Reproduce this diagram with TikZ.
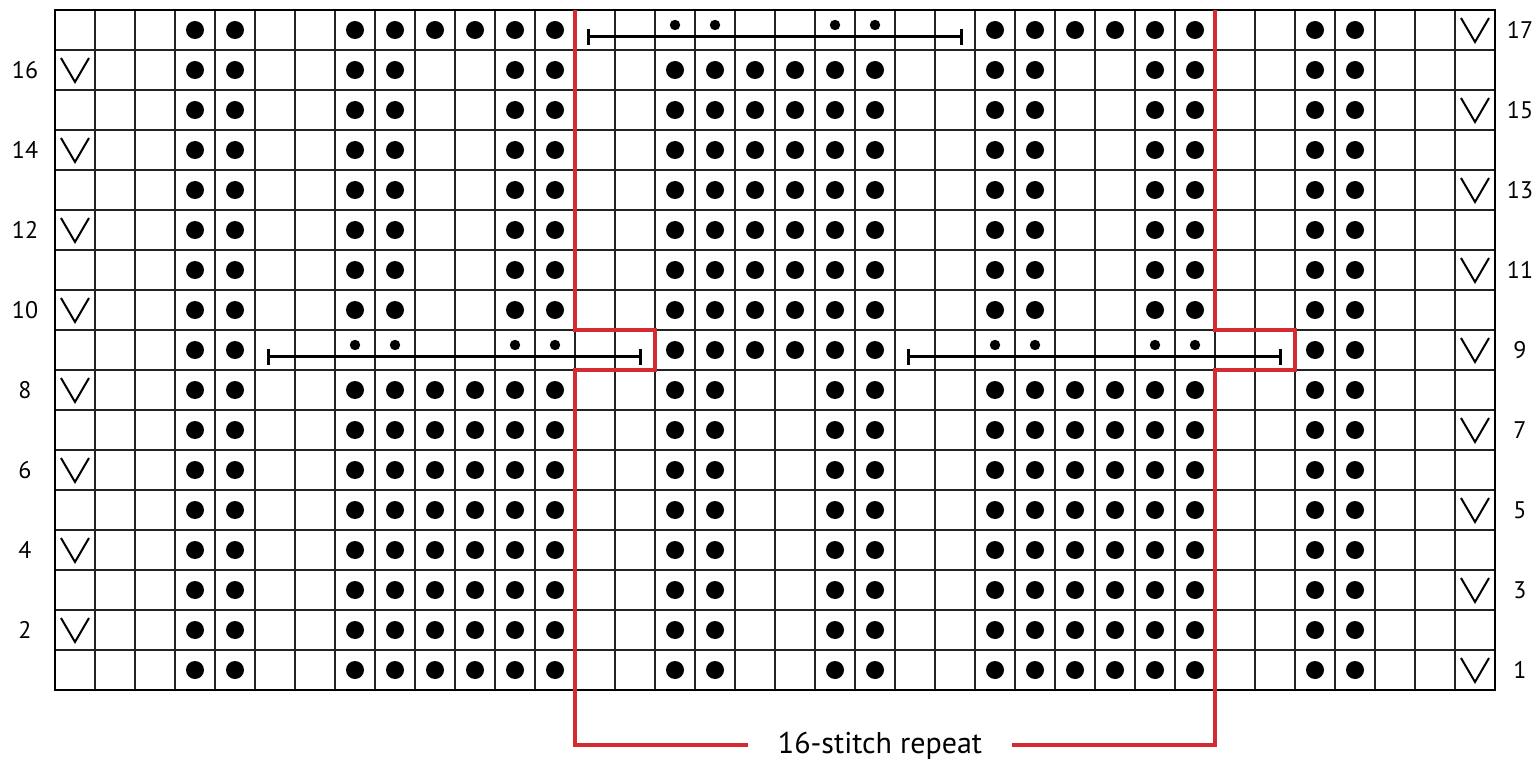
\documentclass[tikz,border=0pt]{standalone}
\usepackage{fontspec}
\setmainfont{PT Sans}
\definecolor{repred}{HTML}{D42A30}
\definecolor{gridc}{HTML}{222222}
\begin{document}
\begin{tikzpicture}[x=0.5pt,y=-0.5pt,
  gridline/.style={line width=0.75pt, draw=gridc},
  border/.style={line width=1.1pt, draw=black},
  bigdot/.style={fill=black},
  smalldot/.style={fill=black},
  cableline/.style={line width=1.5pt, draw=black},
  slipv/.style={line width=1pt, draw=black, line join=miter},
  repline/.style={line width=1.6pt, draw=repred},
  rownum/.style={font=\fontsize{12}{12}\selectfont, inner sep=0pt},
  replabel/.style={font=\fontsize{15}{15}\selectfont, inner xsep=15pt, inner ysep=0pt}]
\useasboundingbox (0,0) rectangle (1532,759);
% grid
\foreach \c in {1,...,35} \draw[gridline] ({55+40*\c},10) -- ({55+40*\c},690);
\foreach \r in {1,...,16} \draw[gridline] (55,{10+40*\r}) -- (1495,{10+40*\r});
\draw[border] (55,10) rectangle (1495,690);
% big dots rows 1-8
\foreach \r in {1,...,8}
  \foreach \c in {3,4,7,8,9,10,11,12,15,16,19,20,23,24,25,26,27,28,31,32}
    \fill[bigdot] ({75+40*\c},{710-40*\r}) circle[radius=4.5pt];
% rows 10-16
\foreach \r in {10,...,16}
  \foreach \c in {3,4,7,8,11,12,15,16,17,18,19,20,23,24,27,28,31,32}
    \fill[bigdot] ({75+40*\c},{710-40*\r}) circle[radius=4.5pt];
% row 9
\foreach \c in {3,4,15,16,17,18,19,20,31,32}
  \fill[bigdot] ({75+40*\c},350) circle[radius=4.5pt];
% row 17
\foreach \c in {3,4,7,8,9,10,11,12,23,24,25,26,27,28,31,32}
  \fill[bigdot] ({75+40*\c},30) circle[radius=4.5pt];
% small dots
\foreach \c in {7,8,11,12,23,24,27,28}
  \fill[smalldot] ({75+40*\c},345) circle[radius=2.6pt];
\foreach \c in {15,16,19,20}
  \fill[smalldot] ({75+40*\c},25) circle[radius=2.6pt];
% cable bars
\foreach \xa/\xb/\yy in {268/640/357, 908/1280/357, 588/961/37} {
  \draw[cableline] (\xa,\yy) -- (\xb,\yy);
  \draw[cableline] (\xa,{\yy-8}) -- (\xa,{\yy+8});
  \draw[cableline] (\xb,{\yy-8}) -- (\xb,{\yy+8});
}
% slip stitch V
\foreach \r in {2,4,...,16}
  \draw[slipv] (61,{710-40*\r-12}) -- (75,{710-40*\r+12}) -- (89,{710-40*\r-12});
\foreach \r in {1,3,...,17}
  \draw[slipv] (1461,{710-40*\r-12}) -- (1475,{710-40*\r+12}) -- (1489,{710-40*\r-12});
% row numbers
\foreach \r in {2,4,...,16}
  \node[rownum] (L\r) at (25,{710-40*\r}) {\r};
\foreach \r in {1,3,...,17}
  \node[rownum] (R\r) at (1520,{710-40*\r}) {\r};
% repeat outline
\node[replabel, anchor=base] (rep) at (880,753) {16-stitch repeat};
\coordinate (a1) at (575,10);
\coordinate (a2) at (575,330);
\coordinate (a3) at (655,330);
\coordinate (a4) at (655,370);
\coordinate (a5) at (575,370);
\coordinate (a6) at (575,745);
\coordinate (b1) at (1215,10);
\coordinate (b2) at (1215,330);
\coordinate (b3) at (1295,330);
\coordinate (b4) at (1295,370);
\coordinate (b5) at (1215,370);
\coordinate (b6) at (1215,745);
\draw[repline] (a1) -- (a2) -- (a3) -- (a4) -- (a5) -- (a6) -- (rep.west |- a6);
\draw[repline] (b1) -- (b2) -- (b3) -- (b4) -- (b5) -- (b6) -- (rep.east |- b6);
\end{tikzpicture}
\end{document}
